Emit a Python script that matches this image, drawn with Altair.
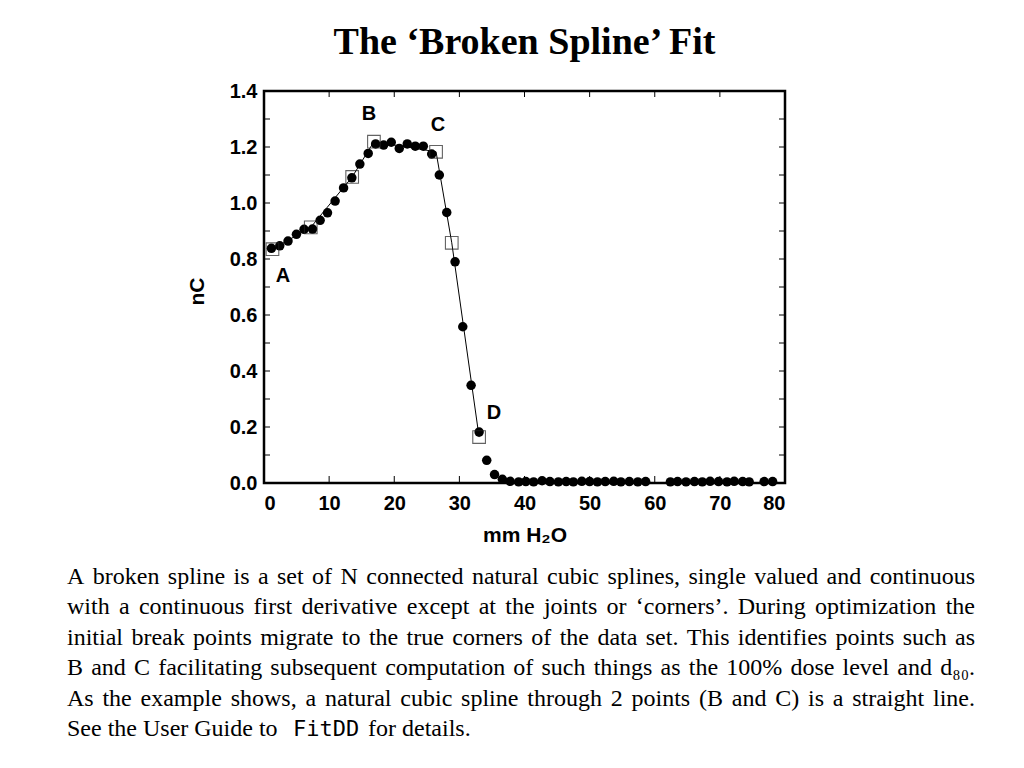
import altair as alt
import pandas as pd

# measured data points (mm H2O, nC)
x_pts = [1.14, 2.42, 3.69, 4.98, 6.15, 7.45, 8.62, 9.75, 10.92, 12.22, 13.49, 14.72,
         16.0, 17.14, 18.37, 19.54, 20.77, 22.0, 23.23, 24.46, 25.75, 26.92, 28.06,
         29.34, 30.52, 31.8, 33.03, 34.2, 35.4, 36.6, 37.8, 39.1, 40.2, 41.4, 42.7,
         43.9, 45.2, 46.4, 47.5, 48.8, 50.0, 51.2, 52.4, 53.7, 54.8, 56.1, 57.4, 58.6,
         62.4, 63.5, 64.8, 66.1, 67.3, 68.5, 69.8, 71.1, 72.2, 73.5, 74.5, 76.8, 78.1]
y_pts = [0.838, 0.847, 0.864, 0.888, 0.906, 0.907, 0.938, 0.965, 1.007, 1.054, 1.090, 1.139,
         1.177, 1.211, 1.207, 1.217, 1.195, 1.211, 1.203, 1.203, 1.175, 1.100, 0.966,
         0.790, 0.558, 0.349, 0.182, 0.081, 0.030, 0.013, 0.006, 0.004, 0.005, 0.004, 0.008,
         0.005, 0.004, 0.005, 0.004, 0.006, 0.005, 0.004, 0.005, 0.006, 0.004, 0.005, 0.004, 0.005,
         0.004, 0.005, 0.004, 0.005, 0.004, 0.006, 0.005, 0.004, 0.006, 0.005, 0.004, 0.005, 0.005]

# broken-spline knots (open squares) joined by the fitted line
knot_x = [1.3, 7.18, 13.54, 16.88, 26.42, 28.83, 33.03]
knot_y = [0.835, 0.913, 1.093, 1.219, 1.183, 0.858, 0.164]

# corner labels
lab_text = ["A", "B", "C", "D"]
lab_x = [2.9, 16.1, 26.7, 35.3]
lab_y = [0.739, 1.318, 1.278, 0.249]

x_ticks = [0, 10, 20, 30, 40, 50, 60, 70, 80]
y_ticks = [0.0, 0.2, 0.4, 0.6, 0.8, 1.0, 1.2, 1.4]
x_minor = [10, 20, 30, 40, 50, 60, 70]
y_minor = [0.1, 0.2, 0.3, 0.4, 0.5, 0.6, 0.7, 0.8, 0.9, 1.0, 1.1, 1.2, 1.3]

para_lines = [
    "A broken spline is a set of N connected natural cubic splines, single valued and continuous",
    "with a continuous first derivative except at the joints or \u2018corners\u2019. During optimization the",
    "initial break points migrate to the true corners of the data set. This identifies points such as",
    "B and C facilitating subsequent computation of such things as the 100% dose level and d\u2088\u2080.",
    "As the example shows, a natural cubic spline through 2 points (B and C) is a straight line.",
]
last_parts = ["See the User Guide to", "FitDD", "for details."]

W, H = 521, 392
OX, OY = 264, 91          # plot-area origin on the page (for the text layout below)
FS = 24                   # paragraph font size
L, R = 67, 975            # justified paragraph edges (page px)
BASE0, LH = 584, 30.4     # first baseline and line height

# Times/Liberation Serif advance widths (per 1000 em) for justification
_w = {" ": 250, ".": 250, ",": 250, "(": 333, ")": 333, "%": 833, "\u2018": 333, "\u2019": 333,
      "\u2088": 350, "\u2080": 350,
      "a": 444, "b": 500, "c": 444, "d": 500, "e": 444, "f": 333, "g": 500, "h": 500, "i": 278,
      "j": 278, "k": 500, "l": 278, "m": 778, "n": 500, "o": 500, "p": 500, "q": 500, "r": 333,
      "s": 389, "t": 278, "u": 500, "v": 500, "w": 722, "x": 500, "y": 500, "z": 444,
      "A": 722, "B": 667, "C": 667, "D": 722, "N": 722, "S": 556, "T": 611, "U": 722, "G": 722}


def tw(s):
    return sum(_w.get(c, 500) for c in s) * FS / 1000.0


left_rows, right_rows = [], []
for i, ln in enumerate(para_lines):
    words = ln.split(" ")
    widths = [tw(w) for w in words]
    gap = (R - L - sum(widths)) / (len(words) - 1)
    y = BASE0 + i * LH - OY
    xpos = L
    for j, (wd_text, wd) in enumerate(zip(words, widths)):
        if j == len(words) - 1:
            right_rows.append({"t": wd_text, "px": R - OX, "py": y})
        else:
            left_rows.append({"t": wd_text, "px": xpos - OX, "py": y})
        xpos += wd + gap
ylast = BASE0 + 5 * LH - OY
left_rows.append({"t": last_parts[0], "px": L - OX, "py": ylast})
left_rows.append({"t": last_parts[2], "px": 368 - OX, "py": ylast})
mono_rows = [{"t": last_parts[1], "px": 293 - OX, "py": ylast}]

pts = pd.DataFrame({"x": x_pts, "y": y_pts})
knots = pd.DataFrame({"x": knot_x, "y": knot_y})
labs = pd.DataFrame({"x": lab_x, "y": lab_y, "t": lab_text})
xt = pd.DataFrame({"v": x_minor})
yt = pd.DataFrame({"v": y_minor})

xs = alt.Scale(domain=[0, 80], nice=False, zero=False)
ys = alt.Scale(domain=[0, 1.4], nice=False, zero=False)

ax_common = dict(labelFont="Liberation Sans", labelFontWeight="bold", labelFontSize=20,
                 labelColor="black", titleFont="Liberation Sans", titleFontWeight="bold",
                 titleFontSize=21, titleColor="black", grid=False, domain=False, ticks=False)
X = alt.X("x:Q", scale=xs, axis=alt.Axis(values=x_ticks, title="mm H\u2082O", format="d",
                                          titleX=W / 2, titleY=58, titleBaseline="alphabetic",
                                          labelPadding=10, **ax_common))
Y = alt.Y("y:Q", scale=ys, axis=alt.Axis(values=y_ticks, title="nC", format=".1f",
                                          titleX=-67, titleY=200, titleBaseline="middle",
                                          titleAngle=-90, labelPadding=7, **ax_common))

line = alt.Chart(knots).mark_line(color="black", strokeWidth=1).encode(x=X, y=Y)
dots = alt.Chart(pts).mark_circle(color="black", opacity=1, size=90).encode(x="x:Q", y="y:Q")
squares = alt.Chart(knots).mark_square(filled=False, color="#222", strokeWidth=1.1, size=160).encode(x="x:Q", y="y:Q")
labels = alt.Chart(labs).mark_text(font="Liberation Sans", fontWeight="bold", fontSize=20,
                                   color="black").encode(x="x:Q", y="y:Q", text="t:N")

left_t = alt.Chart(yt).mark_rule(color="black", strokeWidth=1).encode(
    y=alt.Y("v:Q", scale=ys), x=alt.value(0), x2=alt.value(6))
right_t = alt.Chart(yt).mark_rule(color="black", strokeWidth=1).encode(
    y=alt.Y("v:Q", scale=ys), x=alt.value(W - 6), x2=alt.value(W))
top_t = alt.Chart(xt).mark_rule(color="black", strokeWidth=1).encode(
    x=alt.X("v:Q", scale=xs), y=alt.value(0), y2=alt.value(6))
bot_t = alt.Chart(xt).mark_rule(color="black", strokeWidth=1).encode(
    x=alt.X("v:Q", scale=xs), y=alt.value(H - 7), y2=alt.value(H))

plot = alt.layer(line, dots, squares, labels, left_t, right_t, top_t, bot_t)

PX = alt.X("px:Q", scale=None, axis=None)
PY = alt.Y("py:Q", scale=None, axis=None)
para_l = alt.Chart(pd.DataFrame(left_rows)).mark_text(
    font="Liberation Serif", fontSize=FS, align="left", baseline="alphabetic", color="black"
).encode(x=PX, y=PY, text="t:N")
para_r = alt.Chart(pd.DataFrame(right_rows)).mark_text(
    font="Liberation Serif", fontSize=FS, align="right", baseline="alphabetic", color="black"
).encode(x=PX, y=PY, text="t:N")
mono = alt.Chart(pd.DataFrame(mono_rows)).mark_text(
    font="DejaVu Sans Mono", fontSize=22, align="left", baseline="alphabetic", color="black"
).encode(x=PX, y=PY, text="t:N")

chart = alt.layer(plot, para_l, para_r, mono).resolve_scale(
    x="independent", y="independent"
).properties(
    width=W, height=H,
    autosize=alt.AutoSizeParams(type="none"),
    padding={"left": 256, "top": 83, "right": 230, "bottom": 270},
    title=alt.TitleParams(text="The \u2018Broken Spline\u2019 Fit", font="Liberation Serif",
                          fontSize=38, fontWeight="bold", anchor="middle", color="black",
                          baseline="alphabetic", frame="group", offset=35, dy=46),
).configure_view(stroke="black", strokeWidth=2.5)

chart.save("out.html", embed_options={"renderer": "svg", "actions": False})
